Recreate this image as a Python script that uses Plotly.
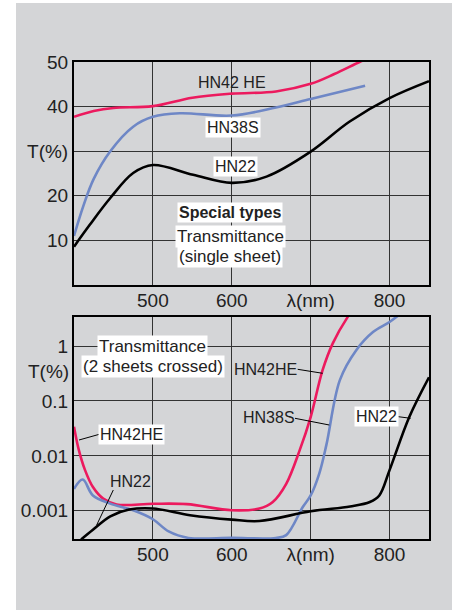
import plotly.graph_objects as go

# ---------------- data ----------------
# Top panel: transmittance single sheet (%)
wl_top_he = [400, 425, 450, 500, 550, 600, 656, 700, 730, 762, 775]
t_top_he = [37.7, 39.0, 39.7, 40.1, 42.0, 42.9, 43.4, 45.1, 47.3, 50.0, 51.0]

wl_top_38 = [400, 412, 425, 446, 475, 500, 534, 600, 656, 700, 769]
t_top_38 = [11.0, 17.8, 23.8, 30.0, 35.5, 37.7, 38.5, 38.0, 39.8, 41.7, 44.7]

wl_top_22 = [400, 420, 446, 475, 500, 551, 600, 644, 700, 749, 800, 850]
t_top_22 = [8.6, 13.5, 19.5, 25.1, 26.9, 24.7, 22.9, 24.3, 29.9, 36.6, 41.9, 45.7]

# Bottom panel: transmittance 2 sheets crossed (%)
wl_bot_he = [400, 406, 414, 424, 437, 454, 500, 543, 600, 635, 652, 669, 686, 700, 715,
             728, 747, 760]
t_bot_he = [0.034, 0.013, 0.0055, 0.0027, 0.00166, 0.0013, 0.00134, 0.00132, 0.00102,
            0.0011, 0.00145, 0.0031, 0.0126, 0.051, 0.36, 1.12, 3.4, 6.0]

wl_bot_38 = [400, 411, 424, 446, 475, 500, 520, 545, 600, 656, 669, 690, 700, 711, 720,
             737, 758, 779, 800, 815]
t_bot_38 = [0.0025, 0.0037, 0.0019, 0.00135, 0.00102, 0.0007, 0.00042, 0.00032, 0.00032,
            0.00032, 0.00036, 0.00117, 0.0019, 0.0048, 0.016, 0.24, 0.85, 1.8, 2.75, 4.0]

wl_bot_22 = [409, 424, 446, 470, 500, 547, 600, 635, 700, 750, 775, 787, 800, 825, 850]
t_bot_22 = [0.0003, 0.00045, 0.00079, 0.00105, 0.0011, 0.00083, 0.00069, 0.00065,
            0.00098, 0.0012, 0.00144, 0.0019, 0.0055, 0.051, 0.27]

x_tickvals = [500, 600, 700, 800]
x_ticktext = ["500", "600", "λ(nm)", "800"]
top_tickvals = [10, 20, 30, 40, 50]
top_ticktext = ["10", "20", "T(%)", "40", "50"]
bot_tickvals = [0.001, 0.01, 0.1, 1]
bot_ticktext = ["0.001", "0.01", "0.1", "1"]

RED = "#ec1a5e"
BLUE = "#6e87c6"
BLACK = "#000000"
FONT = "Liberation Sans"
W, H = 452, 610

fig = go.Figure()

def add(x, y, color, xa, ya):
    fig.add_trace(go.Scatter(x=x, y=y, mode="lines", xaxis=xa, yaxis=ya,
                             line=dict(color=color, width=2.6, shape="spline", smoothing=1.0),
                             hoverinfo="skip", showlegend=False))

add(wl_top_he, t_top_he, RED, "x", "y")
add(wl_top_38, t_top_38, BLUE, "x", "y")
add(wl_top_22, t_top_22, BLACK, "x", "y")
add(wl_bot_he, t_bot_he, RED, "x2", "y2")
add(wl_bot_38, t_bot_38, BLUE, "x2", "y2")
add(wl_bot_22, t_bot_22, BLACK, "x2", "y2")

def px(xp):
    return xp / W

def py(yp):
    return 1 - yp / H

xdom = [px(74), px(429)]
common_x = dict(range=[400, 850], tickvals=x_tickvals, ticktext=x_ticktext,
                showgrid=True, gridcolor="#333333", gridwidth=1.3,
                showline=True, linecolor="black", linewidth=2, mirror=True,
                ticks="", zeroline=False, domain=xdom, automargin=False,
                ticklabelstandoff=-3,
                tickfont=dict(family=FONT, size=19, color="#222"))
common_y = dict(showgrid=True, gridcolor="#333333", gridwidth=1.3,
                showline=True, linecolor="black", linewidth=2, mirror=True,
                ticks="", zeroline=False, automargin=False,
                tickfont=dict(family=FONT, size=19, color="#222"))

fig.update_layout(
    width=W, height=H,
    margin=dict(l=0, r=0, t=0, b=0, autoexpand=False),
    paper_bgcolor="white", plot_bgcolor="white",
    xaxis=dict(**common_x, anchor="y"),
    yaxis=dict(**common_y, anchor="x", range=[0, 50], tickvals=top_tickvals,
               ticktext=top_ticktext, domain=[py(285), py(62)]),
    xaxis2=dict(**common_x, anchor="y2"),
    yaxis2=dict(**common_y, anchor="x2", type="log", range=[-3.52, 0.535],
                tickvals=bot_tickvals, ticktext=bot_ticktext, domain=[py(539.3), py(316.7)]),
)

# gray background panel
fig.add_shape(type="rect", xref="paper", yref="paper", x0=px(16), x1=1, y0=0, y1=py(3),
              fillcolor="#d4d5d7", line=dict(width=0), layer="below")

ann = []
def text(x, y, s, size=16, bg=None, bold=False, xref="x", yref="y", xanchor="center"):
    ann.append(dict(x=x, y=y, xref=xref, yref=yref, text=("<b>%s</b>" % s) if bold else s,
                    showarrow=False, xanchor=xanchor, yanchor="middle",
                    font=dict(family=FONT, size=size, color="#222"),
                    bgcolor=bg, borderpad=1))

# top panel labels
text(600, 45.4, "HN42 HE", 16)
text(602, 35.3, "HN38S", 16, bg="white")
text(605, 26.5, "HN22", 16, bg="white")
text(598, 16.2, "Special types", 16, bg="white", bold=True)
text(598, 10.8, "Transmittance", 17, bg="white")
text(598, 6.3, "(single sheet)", 17, bg="white")

# bottom panel labels (y in log10 units)
text(500, 0.0, "Transmittance", 17, bg="white", xref="x2", yref="y2")
text(500, -0.37, "(2 sheets crossed)", 17, bg="white", xref="x2", yref="y2")
text(px(71), -0.47, "T(%)", 19, xref="paper", yref="y2", xanchor="right")
text(px(265), py(369.3), "HN42HE", 16, xref="paper", yref="paper")
text(px(269), py(417.7), "HN38S", 16, xref="paper", yref="paper")
text(px(376), py(416), "HN22", 16, bg="white", xref="paper", yref="paper")
text(px(131), py(434.3), "HN42HE", 16, bg="white", xref="paper", yref="paper")
text(px(130), py(481), "HN22", 16, xref="paper", yref="paper")
fig.update_layout(annotations=ann)

# leader lines
leaders = [((297.7, 369.3), (322.7, 373.3)),
           ((295, 418.3), (329.3, 425)),
           ((398.3, 416.7), (410.7, 418.3)),
           ((99.3, 434.3), (79, 440)),
           ((113.3, 490), (96.7, 525))]
for (xa, ya), (xb, yb) in leaders:
    fig.add_shape(type="line", xref="paper", yref="paper",
                  x0=px(xa), y0=py(ya), x1=px(xb), y1=py(yb),
                  line=dict(color="black", width=1))

fig.write_html("out.html", config={"displayModeBar": False},
               post_script="document.body.style.margin='0px';document.body.style.overflow='hidden';")
